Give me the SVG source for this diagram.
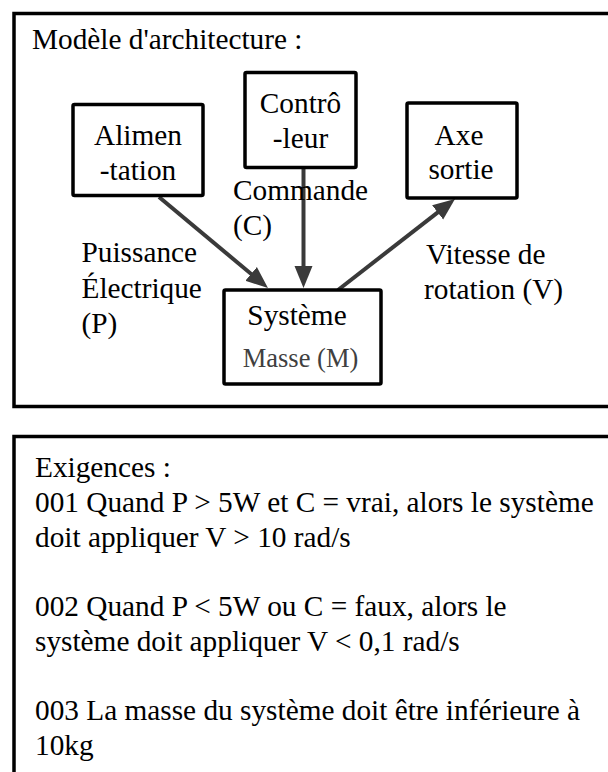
<svg xmlns="http://www.w3.org/2000/svg" width="608" height="772" viewBox="0 0 608 772" font-family="'Liberation Serif', serif">
<style>
.frame{fill:#fff;stroke:#000;stroke-width:3.5}
.box{fill:#fff;stroke:#000;stroke-width:3.5}
.t{font-family:'Liberation Serif',serif;font-size:29.3px;fill:#000}
.c{text-anchor:middle}
.g{fill:#404040;font-size:26.5px}
.edge{stroke:#3a3a3a;stroke-width:4;fill:none;marker-end:url(#ah)}
</style>
<defs>
<marker id="ah" markerUnits="userSpaceOnUse" markerWidth="24" markerHeight="20" refX="12" refY="10" orient="auto" viewBox="0 0 24 20">
<path d="M0,1 L22,10 L0,19 z" fill="#3a3a3a"/>
</marker>
</defs>
<rect width="608" height="772" fill="#fff"/>
<g id="architecture-frame">
<rect class="frame" x="14" y="13.5" width="620" height="393"/>
<text class="t" x="32" y="49">Modèle d'architecture :</text>
</g>
<g id="connectors">
<line class="edge" x1="159" y1="197" x2="260.3" y2="281.6"/>
<line class="edge" x1="303.5" y1="168" x2="303.5" y2="278"/>
<line class="edge" x1="338" y1="290" x2="447.1" y2="205.1"/>
<text class="t" x="81.5" y="262">Puissance</text>
<text class="t" x="81.5" y="297.5">Électrique</text>
<text class="t" x="81.5" y="333">(P)</text>
<text class="t" x="233" y="200">Commande</text>
<text class="t" x="233" y="235">(C)</text>
<text class="t" x="426" y="264">Vitesse de</text>
<text class="t" x="424" y="299">rotation (V)</text>
</g>
<g id="node-alimentation">
<rect class="box" x="73" y="104.5" width="130" height="91" rx="1.5"/>
<text class="t c" x="138" y="145">Alimen</text>
<text class="t c" x="138" y="180">-tation</text>
</g>
<g id="node-controleur">
<rect class="box" x="245" y="72.5" width="111" height="95" rx="1.5"/>
<text class="t c" x="300.5" y="113">Contrô</text>
<text class="t c" x="300.5" y="148">-leur</text>
</g>
<g id="node-axe">
<rect class="box" x="407" y="103" width="110" height="95" rx="1.5"/>
<text class="t c" x="459" y="145">Axe</text>
<text class="t c" x="461" y="179">sortie</text>
</g>
<g id="node-systeme">
<rect class="box" x="224" y="290" width="157" height="94" rx="1.5"/>
<text class="t c" x="297" y="325">Système</text>
<text class="t c g" x="300.5" y="367">Masse (M)</text>
</g>
<g id="requirements">
<rect class="frame" x="14" y="436.5" width="620" height="360"/>
<text class="t" x="35" y="477">Exigences :</text>
<text class="t" x="35" y="511.75">001 Quand P &gt; 5W et C = vrai, alors le système</text>
<text class="t" x="35" y="546.5">doit appliquer V &gt; 10 rad/s</text>
<text class="t" x="35" y="616">002 Quand P &lt; 5W ou C = faux, alors le</text>
<text class="t" x="35" y="650.75">système doit appliquer V &lt; 0,1 rad/s</text>
<text class="t" x="35" y="720.25">003 La masse du système doit être inférieure à</text>
<text class="t" x="35" y="755">10kg</text>
</g>
</svg>
